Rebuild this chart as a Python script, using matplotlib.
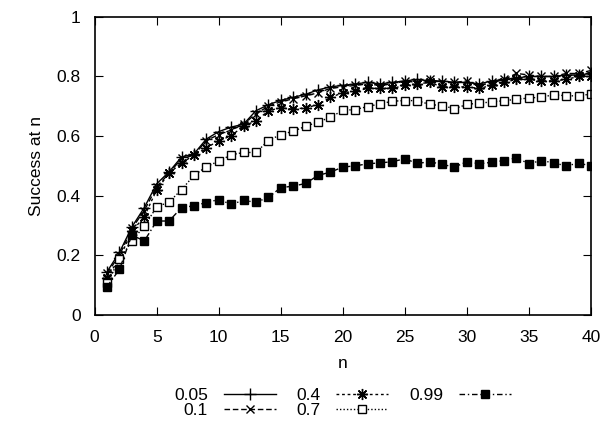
import numpy as np
import matplotlib
matplotlib.use('Agg')
import matplotlib.pyplot as plt

plt.rcParams['font.family'] = ['Liberation Sans', 'DejaVu Sans']

# success at n for each threshold, n = 1..40
n = list(range(1, 41))
s005 = [0.145, 0.21, 0.295, 0.36, 0.44, 0.48, 0.53, 0.54, 0.59, 0.615,
        0.63, 0.64, 0.685, 0.705, 0.72, 0.73, 0.74, 0.755, 0.765, 0.77,
        0.775, 0.78, 0.775, 0.78, 0.785, 0.79, 0.785, 0.785, 0.78, 0.78,
        0.775, 0.785, 0.79, 0.795, 0.8, 0.8, 0.8, 0.805, 0.805, 0.81]
s01 = [0.14, 0.2, 0.29, 0.35, 0.43, 0.475, 0.525, 0.535, 0.585, 0.605,
       0.62, 0.64, 0.675, 0.7, 0.715, 0.725, 0.735, 0.745, 0.76, 0.765,
       0.77, 0.775, 0.77, 0.775, 0.785, 0.78, 0.79, 0.78, 0.78, 0.785,
       0.77, 0.78, 0.79, 0.81, 0.805, 0.8, 0.8, 0.81, 0.81, 0.82]
s04 = [0.125, 0.19, 0.28, 0.33, 0.42, 0.475, 0.51, 0.535, 0.56, 0.585,
       0.6, 0.635, 0.65, 0.685, 0.695, 0.69, 0.695, 0.705, 0.73, 0.745,
       0.75, 0.76, 0.76, 0.76, 0.77, 0.775, 0.78, 0.765, 0.765, 0.765,
       0.76, 0.77, 0.78, 0.79, 0.79, 0.785, 0.785, 0.79, 0.8, 0.8]
s07 = [0.108, 0.186, 0.248, 0.298, 0.362, 0.379, 0.42, 0.468, 0.497, 0.516,
       0.537, 0.545, 0.545, 0.585, 0.605, 0.616, 0.633, 0.647, 0.663, 0.686,
       0.689, 0.699, 0.708, 0.717, 0.719, 0.719, 0.706, 0.702, 0.692, 0.706,
       0.711, 0.714, 0.719, 0.723, 0.728, 0.73, 0.739, 0.735, 0.735, 0.741]
s099 = [0.095, 0.153, 0.268, 0.248, 0.315, 0.315, 0.36, 0.366, 0.377, 0.387,
        0.371, 0.384, 0.378, 0.394, 0.427, 0.432, 0.441, 0.468, 0.479, 0.496,
        0.5, 0.507, 0.51, 0.514, 0.524, 0.508, 0.514, 0.505, 0.496, 0.514,
        0.507, 0.512, 0.518, 0.527, 0.507, 0.518, 0.51, 0.5, 0.509, 0.5]

fs = 12.5
fig = plt.figure(figsize=(6.03, 4.21), dpi=100)
ax = fig.add_axes([0.157, 0.252, 0.823, 0.708])

asterisk = (8, 2, 0)
ax.plot(n, s005, color='black', lw=1, ls='-', marker='+', ms=8, mew=1, label='0.05')
ax.plot(n, s01, color='black', lw=1, ls=(0, (4, 2)), marker='x', ms=6, mew=1, label='0.1')
ax.plot(n, s04, color='black', lw=1, ls=(0, (2, 2)), marker=asterisk, ms=8, mew=1, label='0.4')
ax.plot(n, s07, color='black', lw=1, ls=(0, (1, 1.5)), marker='s', ms=6, mfc='white', mew=1, label='0.7')
ax.plot(n, s099, color='black', lw=1, ls=(0, (4, 2, 1, 2)), marker='s', ms=6, mfc='black', label='0.99')

ax.set_xlim(0, 40)
ax.set_ylim(0, 1)
ax.set_xticks(range(0, 41, 5))
ax.set_yticks([0, 0.2, 0.4, 0.6, 0.8, 1])
ax.set_yticklabels(['0', '0.2', '0.4', '0.6', '0.8', '1'])
ax.tick_params(direction='in', top=True, right=True, length=6, labelsize=fs)
ax.tick_params(axis='x', pad=11)
ax.tick_params(axis='y', pad=10)
for sp in ax.spines.values():
    sp.set_linewidth(1.2)
ax.set_xlabel('n', fontsize=fs, labelpad=8)
ax.set_ylabel('Success at n', fontsize=fs, labelpad=9)

ax.legend(loc='center', bbox_to_anchor=(0.568, 0.043), bbox_transform=fig.transFigure,
          ncol=3, frameon=False, markerfirst=False, fontsize=fs, handlelength=3.0,
          columnspacing=1.2, labelspacing=0.0, handletextpad=0.9, borderpad=0)

fig.savefig('out.png', dpi=100)
